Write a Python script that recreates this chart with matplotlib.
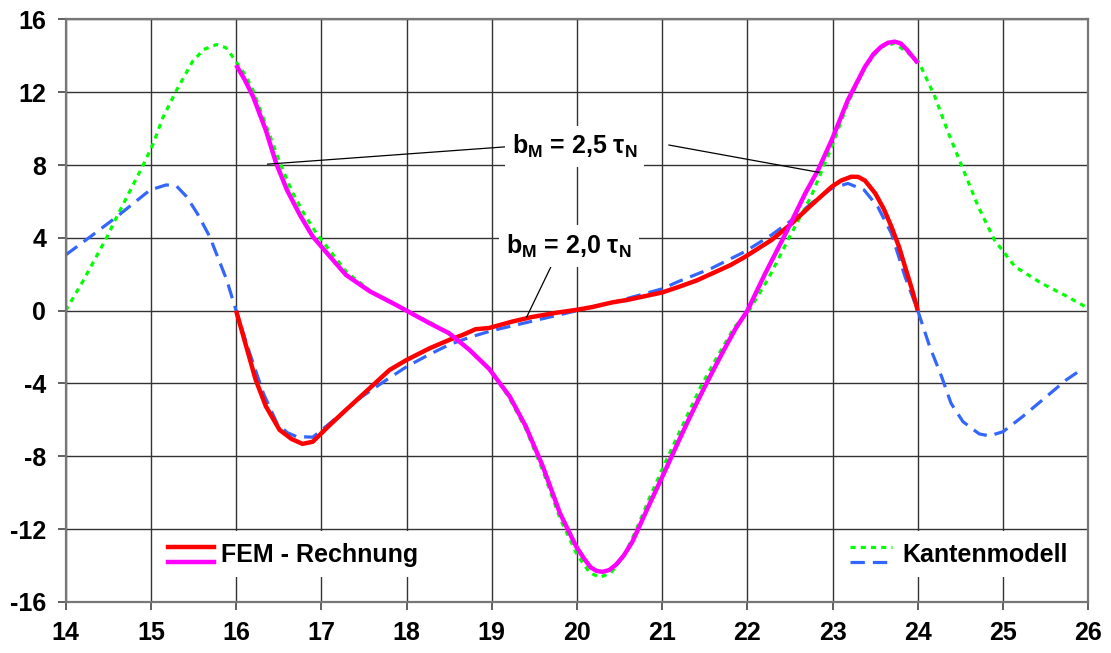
import matplotlib
matplotlib.use('Agg')
import matplotlib.pyplot as plt
from matplotlib.patches import Rectangle
from matplotlib.lines import Line2D

plt.rcParams['font.family'] = ['Liberation Sans', 'DejaVu Sans']
plt.rcParams['font.weight'] = 'bold'
plt.rcParams['axes.unicode_minus'] = False
plt.rcParams['mathtext.fontset'] = 'custom'
plt.rcParams['mathtext.rm'] = 'Liberation Sans:bold'
plt.rcParams['mathtext.it'] = 'Liberation Sans:bold'
plt.rcParams['mathtext.bf'] = 'Liberation Sans:bold'

# ── FEM - Rechnung, b_M = 2,0 tau_N (red) ──────────────────────────────────
x_fem20 = [16.0, 16.12, 16.23, 16.35, 16.51, 16.65, 16.78, 16.9, 17.1, 17.29,
           17.57, 17.8, 18.0, 18.27, 18.5, 18.66, 18.81, 18.97, 19.24, 19.47,
           19.75, 20.0, 20.18, 20.41, 20.6, 20.8, 21.0, 21.19, 21.4, 21.58,
           21.8, 21.97, 22.28, 22.52, 22.75, 22.99, 23.1, 23.22, 23.3, 23.38,
           23.5, 23.6, 23.69, 23.78, 23.85, 23.93, 24.0]
y_fem20 = [0.0, -1.98, -3.8, -5.26, -6.55, -7.05, -7.32, -7.2, -6.28, -5.45,
           -4.25, -3.26, -2.71, -2.07, -1.61, -1.33, -1.02, -0.95, -0.6, -0.35,
           -0.12, 0.05, 0.2, 0.45, 0.6, 0.8, 1.0, 1.3, 1.65, 2.03,
           2.5, 2.95, 3.87, 4.79, 5.8, 6.81, 7.15, 7.36, 7.35, 7.15,
           6.45, 5.6, 4.62, 3.5, 2.42, 1.2, 0.0]

# ── FEM - Rechnung, b_M = 2,5 tau_N (magenta) ──────────────────────────────
x_fem25 = [16.0, 16.1, 16.2, 16.35, 16.47, 16.6, 16.75, 16.9, 17.1, 17.29,
           17.57, 17.88, 18.0, 18.27, 18.5, 18.74, 18.97, 19.21, 19.4, 19.6,
           19.8, 19.99, 20.08, 20.16, 20.23, 20.3, 20.38, 20.46, 20.55, 20.65,
           20.84, 21.04, 21.2, 21.32, 21.45, 21.58, 21.72, 21.86, 22.0, 22.21,
           22.45, 22.68, 22.83, 22.99, 23.18, 23.38, 23.48, 23.57, 23.65, 23.73,
           23.8, 23.87, 23.94, 24.0]
y_fem25 = [13.5, 12.7, 11.76, 9.9, 8.1, 6.6, 5.25, 4.07, 2.98, 1.96,
           1.06, 0.31, 0.0, -0.69, -1.24, -2.16, -3.2, -4.71, -6.36, -8.56,
           -11.12, -12.95, -13.6, -14.1, -14.3, -14.35, -14.25, -13.95, -13.45, -12.7,
           -10.75, -8.74, -7.1, -5.9, -4.65, -3.45, -2.2, -1.0, 0.0, 2.05,
           4.25, 6.45, 7.73, 9.38, 11.58, 13.4, 14.1, 14.5, 14.72, 14.78,
           14.68, 14.35, 13.95, 13.6]

# ── Kantenmodell, b_M = 2,5 tau_N (green dotted) ───────────────────────────
x_kant25 = [14.0, 14.2, 14.48, 14.6, 14.91, 15.03, 15.14, 15.3, 15.49, 15.62,
            15.77, 15.88, 15.96, 16.1, 16.2, 16.35, 16.5, 16.65, 16.8, 16.95,
            17.1, 17.3, 17.6, 18.0, 18.3, 18.6, 18.8, 19.0, 19.2, 19.4,
            19.6, 19.8, 20.0, 20.15, 20.27, 20.4, 20.55, 20.7, 20.85, 21.05,
            21.25, 21.45, 21.65, 21.85, 22.02, 22.25, 22.5, 22.75, 22.99, 23.18,
            23.38, 23.57, 23.73, 23.89, 24.01, 24.2, 24.36, 24.52, 24.71, 24.9,
            25.14, 25.45, 25.72, 26.0]
y_kant25 = [0.0, 1.6, 4.0, 5.16, 8.0, 9.2, 10.6, 12.1, 13.7, 14.35,
            14.62, 14.45, 13.95, 13.0, 12.1, 10.2, 8.3, 6.6, 5.3, 4.2,
            3.3, 2.1, 1.0, 0.0, -0.7, -1.6, -2.4, -3.35, -4.75, -6.5,
            -8.8, -11.4, -13.4, -14.4, -14.65, -14.4, -13.5, -12.0, -10.3, -8.2,
            -6.2, -4.2, -2.5, -0.9, 0.0, 1.8, 4.1, 6.3, 9.0, 11.4,
            13.4, 14.5, 14.69, 14.14, 13.68, 11.76, 9.75, 7.91, 5.71, 3.88,
            2.42, 1.51, 0.86, 0.13]

# ── Kantenmodell, b_M = 2,0 tau_N (blue dashed) ────────────────────────────
x_kant20 = [14.0, 14.3, 14.6, 14.99, 15.18, 15.3, 15.42, 15.55, 15.69, 15.89,
            16.0, 16.16, 16.32, 16.48, 16.6, 16.71, 16.9, 17.1, 17.3, 17.48,
            17.75, 18.0, 18.25, 18.5, 18.75, 19.0, 19.5, 20.0, 20.5, 21.0,
            21.19, 21.58, 21.97, 22.28, 22.52, 22.75, 22.99, 23.18, 23.37, 23.53,
            23.69, 23.85, 24.0, 24.14, 24.28, 24.39, 24.53, 24.72, 24.84, 25.0,
            25.23, 25.51, 25.74, 25.94]
y_kant20 = [3.06, 4.1, 5.16, 6.63, 6.91, 6.85, 6.26, 5.3, 4.07, 1.69,
            0.0, -2.34, -4.54, -6.19, -6.7, -6.92, -6.95, -6.19, -5.4, -4.71,
            -3.85, -3.08, -2.45, -1.87, -1.45, -1.1, -0.55, 0.0, 0.55, 1.2,
            1.6, 2.33, 3.24, 4.15, 4.97, 5.89, 6.72, 6.99, 6.63, 5.71,
            4.25, 1.87, 0.0, -1.98, -3.63, -5.09, -6.1, -6.77, -6.88, -6.65,
            -5.82, -4.72, -3.81, -3.17]

x_ticks = list(range(14, 27))
y_ticks = list(range(-16, 17, 4))

RED, MAG, GRN, BLU = '#ff0000', '#ff00ff', '#00ff00', '#3366ff'
FS = 18

fig = plt.figure(figsize=(11.11, 6.53), dpi=100)
ax = fig.add_axes([0.0591, 0.0783, 0.9204, 0.8919])
ax.set_xlim(14, 26); ax.set_ylim(-16, 16)
ax.set_xticks(x_ticks); ax.set_yticks(y_ticks)
ax.grid(True, color='#333333', lw=1.0, zorder=0)
ax.set_axisbelow(True)
for s in ax.spines.values():
    s.set_color('#777777'); s.set_linewidth(1.6)
ax.tick_params(direction='out', length=6, width=1.2, color='#444444',
               labelsize=FS, pad=8)
for lab in ax.get_xticklabels() + ax.get_yticklabels():
    lab.set_fontweight('bold')

# curves
ax.plot(x_kant25, y_kant25, color=GRN, lw=2.3, ls=(0, (1.6, 1.6)), zorder=2)
ax.plot(x_kant20, y_kant20, color=BLU, lw=2.3, ls=(0, (4.5, 2.5)), zorder=2)
ax.plot(x_fem20, y_fem20, color=RED, lw=3.2, solid_capstyle='butt',
        solid_joinstyle='round', zorder=3)
ax.plot(x_fem25, y_fem25, color=MAG, lw=3.2, solid_capstyle='butt',
        solid_joinstyle='round', zorder=4)

# ── annotations ─────────────────────────────────────────────────────────────
ax.plot([19.45, 16.37], [9.1, 8.05], color='black', lw=0.9, zorder=5)
ax.plot([21.08, 22.84], [9.1, 7.6], color='black', lw=0.9, zorder=5)
ax.plot([19.75, 19.41], [2.95, -0.35], color='black', lw=0.9, zorder=5)
box = dict(fc='white', ec='none', pad=5)
ax.text(19.97, 9.0, 'b$_\\mathregular{M}$ = 2,5 τ$_\\mathregular{N}$', ha='center',
        va='center', fontsize=FS, fontweight='bold', bbox=box, zorder=6)
ax.text(19.91, 3.55, 'b$_\\mathregular{M}$ = 2,0 τ$_\\mathregular{N}$', ha='center',
        va='center', fontsize=FS, fontweight='bold', bbox=box, zorder=6)

# ── legends (two lines stacked per entry) ──────────────────────────────────
T = ax.transAxes
ax.add_patch(Rectangle((0.091, 0.043), 0.264, 0.079, transform=T,
                       fc='white', ec='none', zorder=5))
ax.add_line(Line2D([0.0997, 0.1447], [0.0943, 0.0943], transform=T,
                   color=RED, lw=3.2, zorder=6))
ax.add_line(Line2D([0.0997, 0.1447], [0.0686, 0.0686], transform=T,
                   color=MAG, lw=3.2, zorder=6))
ax.text(0.1515, 0.0806, 'FEM - Rechnung', transform=T, ha='left', va='center',
        fontsize=FS, fontweight='bold', zorder=7)

ax.add_patch(Rectangle((0.760, 0.043), 0.228, 0.079, transform=T,
                       fc='white', ec='none', zorder=5))
ax.add_line(Line2D([0.767, 0.808], [0.0943, 0.0943], transform=T,
                   color=GRN, lw=2.3, ls=(0, (1.6, 1.6)), zorder=6))
ax.add_line(Line2D([0.767, 0.808], [0.0686, 0.0686], transform=T,
                   color=BLU, lw=2.3, ls=(0, (4.5, 2.5)), zorder=6))
ax.text(0.818, 0.0806, 'Kantenmodell', transform=T, ha='left', va='center',
        fontsize=FS, fontweight='bold', zorder=7)

fig.savefig('out.png', dpi=100, facecolor='white')
